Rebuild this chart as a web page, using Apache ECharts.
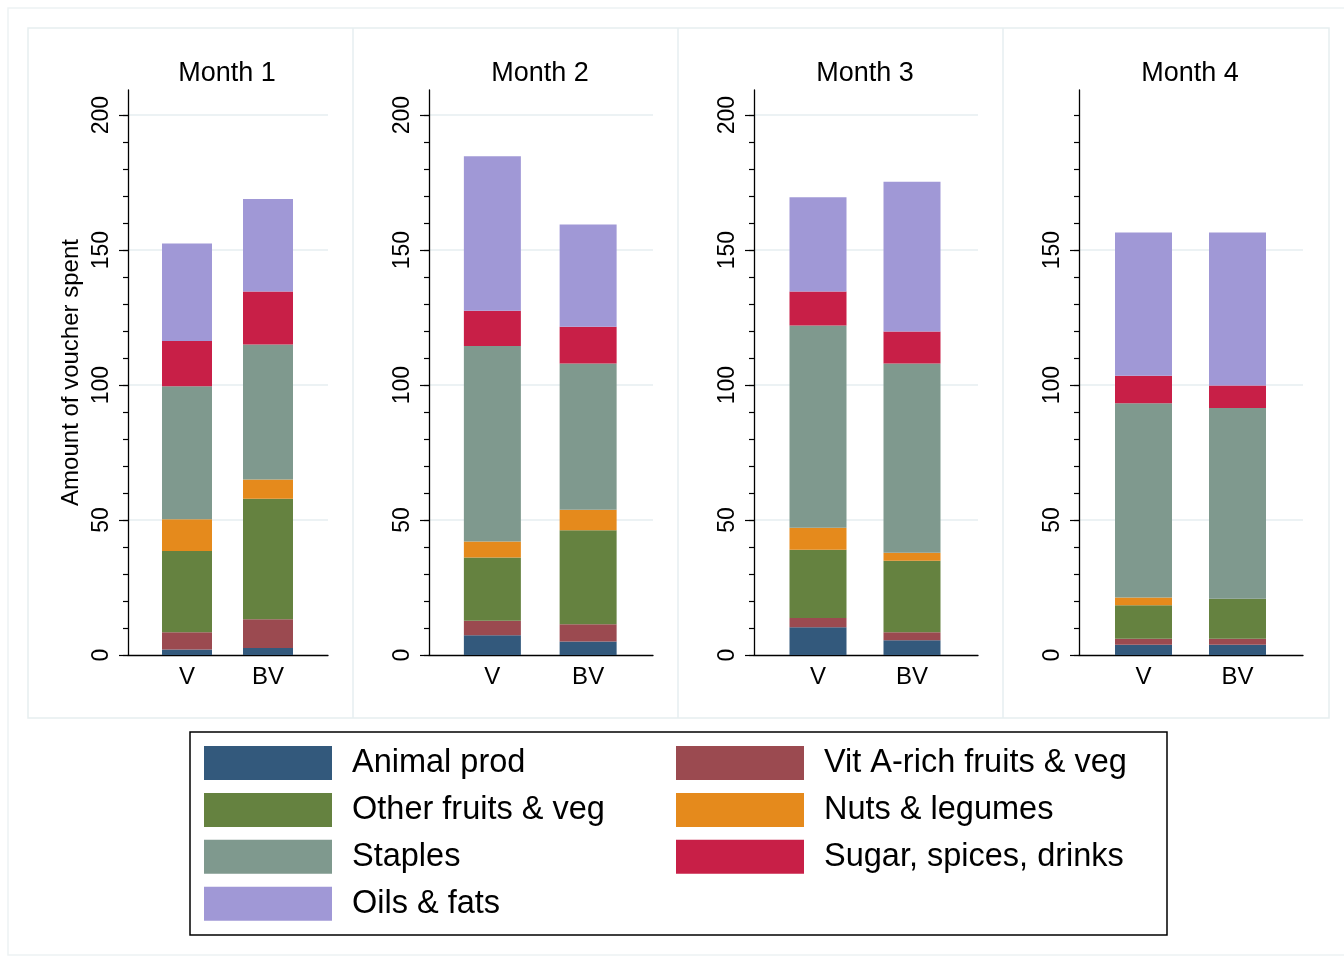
<!DOCTYPE html>
<html>
<head>
<meta charset="utf-8">
<script src="https://cdn.jsdelivr.net/npm/echarts@6/dist/echarts.min.js"></script>
<style>
  html, body { margin: 0; padding: 0; background: #ffffff; }
  #chart { width: 1344px; height: 961px; }
</style>
</head>
<body>
<div id="chart"></div>
<script>
// Voucher spending by food group, per month and study arm (V / BV)
const months = ['Month 1', 'Month 2', 'Month 3', 'Month 4'];
const arms = ['V', 'BV'];

// Values per month: [V, BV]
const animalProd   = [[2.0, 2.6], [7.3, 5.0], [10.3, 5.5], [3.8, 3.8]];
const vitARich     = [[6.4, 10.6], [5.4, 6.4], [3.4, 2.9], [2.2, 2.2]];
const otherFruitVeg = [[30.1, 44.7], [23.4, 34.8], [25.3, 26.5], [12.4, 14.8]];
const nutsLegumes  = [[11.8, 7.1], [5.9, 7.6], [8.1, 3.0], [2.9, 0]];
const staples      = [[49.3, 50.0], [72.5, 54.2], [75.0, 70.1], [72.0, 70.7]];
const sugarSpices  = [[16.7, 19.7], [13.0, 13.6], [12.6, 11.8], [10.1, 8.3]];
const oilsFats     = [[36.1, 34.2], [57.3, 37.9], [34.9, 55.5], [53.1, 56.7]];

// Axis tick values
const majorTicks = [[0, 50, 100, 150, 200], [0, 50, 100, 150, 200], [0, 50, 100, 150, 200], [0, 50, 100, 150]];
const minorTicks = [0, 10, 20, 30, 40, 50, 60, 70, 80, 90, 100, 110, 120, 130, 140, 150, 160, 170, 180, 190, 200];
const yAxisTitle = 'Amount of voucher spent';

const groups = [
  { name: 'Animal prod',            values: animalProd,    color: '#33597c' },
  { name: 'Vit A-rich fruits & veg', values: vitARich,      color: '#9b4a50' },
  { name: 'Other fruits & veg',     values: otherFruitVeg, color: '#658240' },
  { name: 'Nuts & legumes',         values: nutsLegumes,   color: '#e58a1c' },
  { name: 'Staples',                values: staples,       color: '#7f998e' },
  { name: 'Sugar, spices, drinks',  values: sugarSpices,   color: '#c81f47' },
  { name: 'Oils & fats',            values: oilsFats,      color: '#a098d6' }
];

const FONT = "'Liberation Sans', Arial, Helvetica, sans-serif";
const Y_MAX = 209.3;
const PLOT_TOP = 90, PLOT_H = 565;
const GRID_COLOR = '#e6eef0';

// Panel layout: axis frame extent and bar area extent
const frames = [
  { left: 128, width: 200 },
  { left: 429, width: 224 },
  { left: 754, width: 224 },
  { left: 1079, width: 224 }
];
const barAreas = [
  { left: 146.5, width: 162, barWidth: 50 },
  { left: 444.5, width: 191.5, barWidth: 57 },
  { left: 771, width: 188, barWidth: 57 },
  { left: 1096.5, width: 188, barWidth: 57 }
];

const grid = [], xAxis = [], yAxis = [], series = [], title = [];

months.forEach((m, i) => {
  const f = frames[i], b = barAreas[i];
  grid.push({ left: f.left, top: PLOT_TOP, width: f.width, height: PLOT_H });
  grid.push({ left: b.left, top: PLOT_TOP, width: b.width, height: PLOT_H });

  title.push({
    text: m, left: f.left + f.width / 2 - 1, top: 60, padding: 0, textAlign: 'center',
    textStyle: { fontFamily: FONT, fontSize: 27, fontWeight: 'normal', color: '#000' }
  });

  // frame x axis: just the baseline
  xAxis.push({
    type: 'value', gridIndex: 2 * i, min: 0, max: 1,
    axisLine: { show: true, lineStyle: { color: '#000', width: 1.3 } },
    axisTick: { show: false }, axisLabel: { show: false }, splitLine: { show: false }
  });
  // category axis for the bars
  xAxis.push({
    type: 'category', gridIndex: 2 * i + 1, data: arms,
    axisLine: { show: false }, axisTick: { show: false },
    axisLabel: { fontFamily: FONT, fontSize: 24, color: '#000', margin: 10 }
  });

  // major ticks, labels and grid lines
  yAxis.push({
    type: 'value', gridIndex: 2 * i, position: 'left', min: 0, max: Y_MAX, interval: 50,
    name: i === 0 ? yAxisTitle : '',
    nameLocation: 'middle', nameGap: 45, nameRotate: 90,
    nameTextStyle: { fontFamily: FONT, fontSize: 24, color: '#000' },
    axisLine: { show: true, lineStyle: { color: '#000', width: 1.3 } },
    axisTick: { show: true, length: 9, customValues: majorTicks[i], lineStyle: { color: '#000', width: 1.2 } },
    axisLabel: { show: true, customValues: majorTicks[i], rotate: 90, margin: 15,
                 fontFamily: FONT, fontSize: 23, color: '#000' },
    splitLine: { show: true, showMinLine: false, lineStyle: { color: GRID_COLOR, width: 1.5 } }
  });
  // minor ticks
  yAxis.push({
    type: 'value', gridIndex: 2 * i, position: 'left', offset: 0, min: 0, max: Y_MAX, interval: 10,
    axisLine: { show: false },
    axisTick: { show: true, length: 5, customValues: minorTicks, lineStyle: { color: '#000', width: 1.2 } },
    axisLabel: { show: false }, splitLine: { show: false }
  });
  // value axis for the bars (hidden, same scale)
  yAxis.push({ type: 'value', gridIndex: 2 * i + 1, min: 0, max: Y_MAX, show: false, splitLine: { show: false } });

  groups.forEach(g => {
    series.push({
      type: 'bar', name: g.name, stack: 'month' + i,
      xAxisIndex: 2 * i + 1, yAxisIndex: 3 * i + 2,
      barWidth: b.barWidth,
      itemStyle: { color: g.color },
      emphasis: { disabled: true },
      data: g.values[i]
    });
  });
});

const legendCommon = {
  orient: 'vertical', top: 743, padding: 0, itemWidth: 128, itemHeight: 34, itemGap: 6.9,
  icon: 'rect', selectedMode: false,
  textStyle: { fontFamily: FONT, fontSize: 32.5, lineHeight: 34, color: '#000',
               padding: [6, 0, 0, 15], height: 34 }
};

const option = {
  animation: false,
  backgroundColor: '#ffffff',
  title: title,
  grid: grid,
  xAxis: xAxis,
  yAxis: yAxis,
  series: series,
  legend: [
    Object.assign({ left: 204, data: ['Animal prod', 'Other fruits & veg', 'Staples', 'Oils & fats'] }, legendCommon),
    Object.assign({ left: 676, data: ['Vit A-rich fruits & veg', 'Nuts & legumes', 'Sugar, spices, drinks'] }, legendCommon)
  ],
  graphic: [
    { type: 'rect', z: -10, shape: { x: 8, y: 8, width: 1345, height: 947 },
      style: { fill: 'none', stroke: '#edf2f3', lineWidth: 1.5 } },
    { type: 'rect', z: -10, shape: { x: 28, y: 28, width: 1301, height: 690 },
      style: { fill: 'none', stroke: GRID_COLOR, lineWidth: 1.5 } },
    { type: 'line', z: -10, shape: { x1: 353, y1: 28, x2: 353, y2: 718 }, style: { stroke: GRID_COLOR, lineWidth: 1.5 } },
    { type: 'line', z: -10, shape: { x1: 678, y1: 28, x2: 678, y2: 718 }, style: { stroke: GRID_COLOR, lineWidth: 1.5 } },
    { type: 'line', z: -10, shape: { x1: 1003, y1: 28, x2: 1003, y2: 718 }, style: { stroke: GRID_COLOR, lineWidth: 1.5 } },
    { type: 'rect', shape: { x: 190, y: 732, width: 977, height: 203 },
      style: { fill: 'none', stroke: '#000', lineWidth: 1.5 } }
  ]
};

echarts.init(document.getElementById('chart')).setOption(option);
</script>
</body>
</html>
